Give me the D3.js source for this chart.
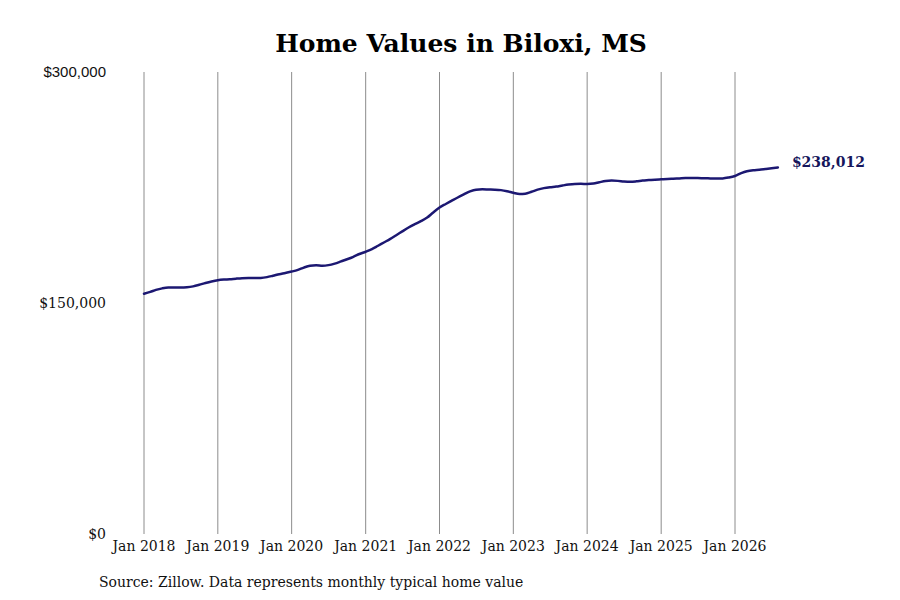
<!DOCTYPE html>
<html><head><meta charset="utf-8">
<script src="https://cdn.jsdelivr.net/npm/d3@7"></script>
<style>body{margin:0;background:#fff}svg{display:block}</style>
</head><body>
<svg id="c" width="900" height="600"></svg>
<script>
const title = "Home Values in Biloxi, MS";
const source = "Source: Zillow. Data represents monthly typical home value";
const startYear = 2018;
const tickYears = [2018, 2019, 2020, 2021, 2022, 2023, 2024, 2025, 2026];
const yTicks = [0, 150000, 300000];
const v2018 = [156000,157200,158500,159500,160000,160000,160000,160200,160800,161800,163000,164000];
const v2019 = [164800,165200,165400,165800,166100,166200,166200,166300,166800,167700,168700,169500];
const v2020 = [170400,171500,173000,174200,174500,174200,174600,175600,177000,178400,180000,181800];
const v2021 = [183300,185000,187000,189300,191500,194000,196500,199000,201200,203200,205500,208800];
const v2022 = [212000,214300,216300,218500,220500,222500,223600,223800,223700,223600,223300,222600];
const v2023 = [221600,220800,221000,222200,223600,224600,225200,225600,226300,226900,227300,227400];
const v2024 = [227300,227600,228400,229200,229500,229300,228900,228700,229000,229500,229800,230100];
const v2025 = [230300,230500,230700,230900,231100,231200,231100,231000,230900,230800,230900,231500];
const v2026 = [232500,234300,235500,236200,236500,237000,237500,238012];

const values = [].concat(v2018, v2019, v2020, v2021, v2022, v2023, v2024, v2025, v2026);
const data = values.map((v, i) => ({date: new Date(startYear, i, 1), value: v}));

const svg = d3.select("#c");
const x = d3.scaleTime().domain([new Date(2018,0,1), new Date(2026,0,1)]).range([144, 735]);
const y = d3.scaleLinear().domain([0, 300000]).range([534, 72]);

svg.append("text").attr("x", 461).attr("y", 52).attr("text-anchor", "middle")
  .attr("font-family", "DejaVu Serif").attr("font-weight", "bold").attr("font-size", 25)
  .attr("fill", "#000").text(title);

// vertical grid
svg.append("g").selectAll("line").data(tickYears).join("line")
  .attr("x1", d => x(new Date(d,0,1))).attr("x2", d => x(new Date(d,0,1)))
  .attr("y1", y(300000)).attr("y2", y(0))
  .attr("stroke", "#8c8c8c").attr("stroke-width", 1);

// x tick labels
svg.append("g").selectAll("text").data(tickYears).join("text")
  .attr("x", d => x(new Date(d,0,1))).attr("y", 551).attr("text-anchor", "middle")
  .attr("font-family", "DejaVu Serif").attr("font-size", 14).attr("fill", "#111")
  .text(d => "Jan " + d);

// y labels
const fmt = d3.format("$,");
svg.append("g").selectAll("text").data(yTicks).join("text")
  .attr("x", 106).attr("y", d => y(d) + 5).attr("text-anchor", "end")
  .attr("font-family", d => d === 300000 ? "Liberation Sans" : "DejaVu Serif")
  .attr("font-size", d => d === 300000 ? 15 : 14).attr("fill", "#111")
  .text(d => fmt(d));

// line
const line = d3.line().x(d => x(d.date)).y(d => y(d.value)).curve(d3.curveMonotoneX);
svg.append("path").datum(data).attr("d", line).attr("fill", "none")
  .attr("stroke", "#1c1872").attr("stroke-width", 2.5).attr("stroke-linejoin", "round").attr("stroke-linecap", "round");

// end label
const last = data[data.length - 1];
svg.append("text").attr("x", x(last.date) + 14).attr("y", y(last.value))
  .attr("font-family", "DejaVu Serif").attr("font-weight", "bold").attr("font-size", 14)
  .attr("fill", "#16165c").text(fmt(last.value));

svg.append("text").attr("x", 99).attr("y", 587)
  .attr("font-family", "DejaVu Serif").attr("font-size", 14).attr("fill", "#111").text(source);
</script>
</body></html>
